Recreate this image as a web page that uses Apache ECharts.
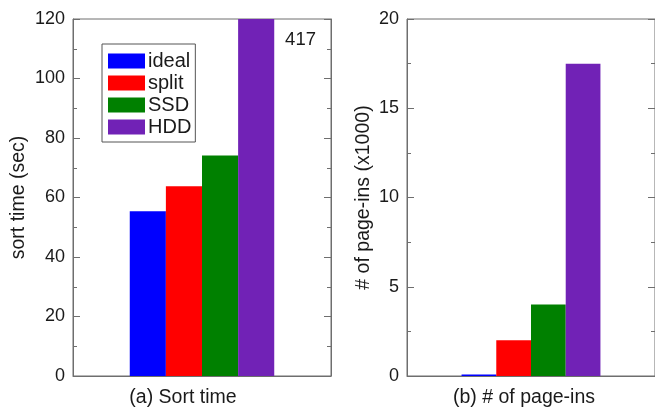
<!DOCTYPE html>
<html>
<head>
<meta charset="utf-8">
<script src="https://cdn.jsdelivr.net/npm/echarts@6/dist/echarts.min.js"></script>
<style>html,body{margin:0;padding:0;background:#fff;}#c{width:655px;height:410px;}</style>
</head>
<body>
<div id="c"></div>
<script>
var seriesNames = ['ideal', 'split', 'SSD', 'HDD'];
var colors = ['#0000ff', '#ff0000', '#008000', '#7122b6'];
var panelA = ['(a) Sort time'];
var panelB = ['(b) # of page-ins'];
var sortTime = [55.4, 63.8, 74.1, 417];
var pageIns = [0.08, 2.0, 4.0, 17.5];
var yNameA = 'sort time (sec)';
var yNameB = '# of page-ins (x1000)';

var FONT = 'Liberation Sans, Arial, sans-serif';
var TXT = '#1a1a1a';
var AX = '#6e6e6e';

var chart = echarts.init(document.getElementById('c'), null, {renderer: 'canvas'});

function yAxisDef(grid, max, interval, name, gap, isRight) {
  return {
    type: 'value', gridIndex: grid, min: 0, max: max, interval: interval,
    position: isRight ? 'right' : 'left',
    name: isRight ? '' : name, nameLocation: 'middle', nameGap: gap,
    nameTextStyle: {fontFamily: FONT, fontSize: 19.5, color: TXT},
    axisLine: {show: true, lineStyle: {color: AX, width: 1}},
    axisTick: {show: true, inside: true, length: 7, lineStyle: {color: AX}},
    minorTick: {show: true, splitNumber: 2, length: 4, lineStyle: {color: AX}},
    axisLabel: {show: !isRight, fontFamily: FONT, fontSize: 18, color: TXT, margin: 8},
    splitLine: {show: false}
  };
}
function xAxisDef(grid, cats) {
  return {
    type: 'category', gridIndex: grid, data: cats,
    axisLine: {show: true, lineStyle: {color: AX}},
    axisTick: {show: false},
    axisLabel: {fontFamily: FONT, fontSize: 19.5, color: TXT, margin: 12, padding: [0, grid === 0 ? 38 : 14, 0, 0]}
  };
}

var series = [];
seriesNames.forEach(function (n, i) {
  series.push({
    name: n, type: 'bar', xAxisIndex: 0, yAxisIndex: 0, data: [sortTime[i]],
    itemStyle: {color: colors[i]}, barGap: 0, barCategoryGap: '44%', clip: true,
    label: i === 3 ? {show: true, position: [47, 11], fontFamily: FONT, fontSize: 18.5, color: TXT} : {show: false}
  });
});
seriesNames.forEach(function (n, i) {
  series.push({
    name: n, type: 'bar', xAxisIndex: 1, yAxisIndex: 2, data: [pageIns[i]],
    itemStyle: {color: colors[i]}, barGap: 0, barCategoryGap: '44%'
  });
});

chart.setOption({
  animation: false,
  backgroundColor: '#fff',
  grid: [
    {left: 73, top: 19, width: 258, height: 357, show: true, borderColor: AX, borderWidth: 1},
    {left: 407, top: 19, width: 258, height: 357, show: true, borderColor: AX, borderWidth: 1}
  ],
  legend: {
    data: seriesNames, orient: 'vertical', left: 102, top: 44,
    itemWidth: 37, itemHeight: 15, itemGap: 2,
    padding: [7, 4, 5, 6], borderColor: '#555', borderWidth: 1, borderRadius: 0,
    textStyle: {fontFamily: FONT, fontSize: 20, color: TXT, padding: [0, 0, 0, -2]},
    icon: 'rect', selectedMode: false
  },
  xAxis: [xAxisDef(0, panelA), xAxisDef(1, panelB)],
  yAxis: [
    yAxisDef(0, 120, 20, yNameA, 44, false),
    yAxisDef(0, 120, 20, '', 0, true),
    yAxisDef(1, 20, 5, yNameB, 33, false),
    yAxisDef(1, 20, 5, '', 0, true)
  ],
  series: series
});
</script>
</body>
</html>
